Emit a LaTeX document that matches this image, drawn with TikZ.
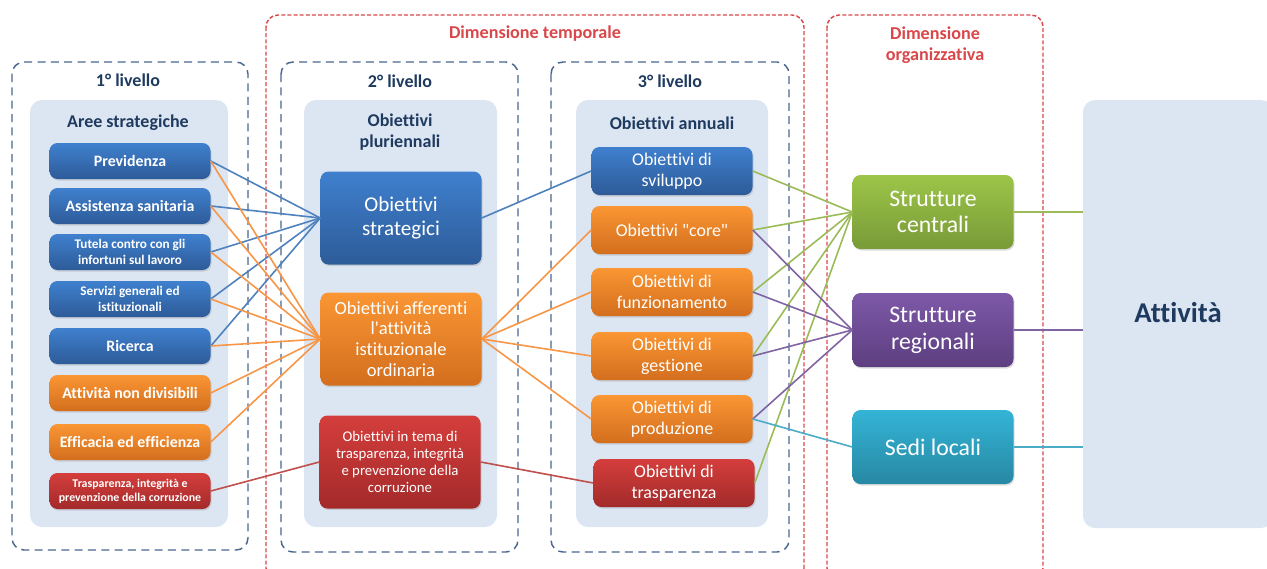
\documentclass[tikz,border=0pt]{standalone}
\usepackage{fontspec}
\setmainfont[Ligatures={NoCommon,TeXOff}]{Carlito}
\usetikzlibrary{shadows}

\definecolor{panelfill}{HTML}{DCE6F2}
\definecolor{levelcol}{HTML}{4A6790}
\definecolor{dimred}{HTML}{D9474A}
\definecolor{titlecol}{HTML}{1F3A5F}
\definecolor{blueA}{HTML}{3F80CE}
\definecolor{blueB}{HTML}{2D5B98}
\definecolor{orangeA}{HTML}{FA9633}
\definecolor{orangeB}{HTML}{D36E1E}
\definecolor{redA}{HTML}{D43E3C}
\definecolor{redB}{HTML}{A32A2A}
\definecolor{greenA}{HTML}{9DC548}
\definecolor{greenB}{HTML}{789A38}
\definecolor{purpleA}{HTML}{7D58A8}
\definecolor{purpleB}{HTML}{5D3F80}
\definecolor{tealA}{HTML}{34B4D6}
\definecolor{tealB}{HTML}{2788A3}
\definecolor{linkblue}{HTML}{4F81BD}
\definecolor{linkorange}{HTML}{F79646}
\definecolor{linkred}{HTML}{C0504D}
\definecolor{linkgreen}{HTML}{9BBB59}
\definecolor{linkpurple}{HTML}{8064A2}
\definecolor{linkteal}{HTML}{4BACC6}

\tikzset{
  box/.style={rounded corners=6pt, text=white, align=center, inner sep=0pt,
    minimum width=120.75pt,
    drop shadow={opacity=0.25, shadow xshift=0.8pt, shadow yshift=-1.2pt}},
  bluebox/.style={box, top color=blueA, bottom color=blueB},
  orangebox/.style={box, top color=orangeA, bottom color=orangeB},
  redbox/.style={box, top color=redA, bottom color=redB},
  greenbox/.style={box, top color=greenA, bottom color=greenB},
  purplebox/.style={box, top color=purpleA, bottom color=purpleB},
  tealbox/.style={box, top color=tealA, bottom color=tealB},
  areabox/.style={minimum height=27pt, font=\bfseries\fontsize{11.9}{14}\selectfont},
  smallarea/.style={minimum height=27pt, font=\bfseries\fontsize{9.9}{11.6}\selectfont},
  pluribox/.style={minimum height=69.75pt},
  annobox/.style={minimum height=36pt, font=\fontsize{13.4}{15.8}\selectfont},
  strutbox/.style={minimum height=55.5pt, font=\fontsize{17.8}{20}\selectfont},
  panel/.style={fill=panelfill, rounded corners=9pt},
  level/.style={draw=levelcol, line width=1.1pt, dash pattern=on 6pt off 4pt, rounded corners=9pt},
  dimension/.style={draw=dimred, line width=1.1pt, dash pattern=on 3pt off 1.6pt, rounded corners=9pt},
  title/.style={font=\bfseries\fontsize{13.5}{16}\selectfont, text=titlecol, align=center},
  dimtitle/.style={font=\bfseries\fontsize{13.6}{15.8}\selectfont, text=dimred, align=center},
  link/.style={line width=1.2pt},
}

\begin{document}
\begin{tikzpicture}[x=0.75pt,y=-0.75pt]
  \useasboundingbox (0,0) rectangle (1267,568);

  % dimension frames
  \draw[dimension] (266,15) rectangle (804,580);
  \draw[dimension] (827,15) rectangle (1043,580);
  \node[dimtitle] (dtemp) at (535,34) {Dimensione temporale};
  \node[dimtitle] (dorg) at (935,45) {Dimensione\\organizzativa};

  % levels
  \draw[level] (12,62) rectangle (248,550);
  \draw[level] (281,62) rectangle (518,552);
  \draw[level] (551,62) rectangle (789,552);
  \node[title] (liv1) at (128,80) {1° livello};
  \node[title] (liv2) at (400,81) {2° livello};
  \node[title] (liv3) at (670,81) {3° livello};

  % panels
  \fill[panel] (30,100) rectangle (228,527);
  \fill[panel] (304,100) rectangle (497,527);
  \fill[panel] (576,100) rectangle (768,527);
  \node[title] (aree) at (128,123) {Aree strategiche};
  \node[title] (pluri) at (400,132) {Obiettivi\\pluriennali};
  \node[title] (annu) at (672,123) {Obiettivi annuali};

  \node[panel, minimum width=142.5pt, minimum height=321pt] (att) at (1178,314) {};
  \node[font=\bfseries\fontsize{21.5}{25}\selectfont, text=titlecol] (atttext) at (1178,313) {Attività};

  % 1st level
  \node[bluebox, areabox] (prev) at (130,161) {Previdenza};
  \node[bluebox, areabox] (assist) at (130,206) {Assistenza sanitaria};
  \node[bluebox, smallarea] (tutela) at (130,252) {Tutela contro con gli\\infortuni sul lavoro};
  \node[bluebox, smallarea] (servizi) at (130,299) {Servizi generali ed\\istituzionali};
  \node[bluebox, areabox] (ricerca) at (130,346) {Ricerca};
  \node[orangebox, areabox] (nondiv) at (130,393) {Attività non divisibili};
  \node[orangebox, areabox] (effic) at (130,442) {Efficacia ed efficienza};
  \node[redbox, minimum height=27pt, font=\bfseries\fontsize{8.9}{10.5}\selectfont] (traspA) at (130,491)
    {Trasparenza, integrità e\\prevenzione della corruzione};

  % 2nd level
  \node[bluebox, pluribox, font=\fontsize{15.8}{18.5}\selectfont] (ostrat) at (401,218) {Obiettivi\\strategici};
  \node[orangebox, pluribox, font=\fontsize{13.9}{15.6}\selectfont] (oaff) at (401,339)
    {Obiettivi afferenti\\l'attività\\istituzionale\\ordinaria};
  \node[redbox, pluribox, font=\fontsize{11.1}{12.9}\selectfont] (otema) at (400,462)
    {Obiettivi in tema di\\trasparenza, integrità\\e prevenzione della\\corruzione};

  % 3rd level
  \node[bluebox, annobox] (svil) at (672,171) {Obiettivi di\\sviluppo};
  \node[orangebox, annobox] (core) at (672,230) {Obiettivi "core"};
  \node[orangebox, annobox] (funz) at (672,292) {Obiettivi di\\funzionamento};
  \node[orangebox, annobox] (gest) at (672,356) {Obiettivi di\\gestione};
  \node[orangebox, annobox] (prod) at (672,419) {Obiettivi di\\produzione};
  \node[redbox, annobox] (traspB) at (674,483) {Obiettivi di\\trasparenza};

  % structures
  \node[greenbox, strutbox] (scentr) at (933,212) {Strutture\\centrali};
  \node[purplebox, strutbox] (sreg) at (933,330) {Strutture\\regionali};
  \node[tealbox, strutbox] (sedi) at (933,447) {Sedi locali};

  % links
  \foreach \a in {prev,assist,tutela,servizi,ricerca}
    \draw[link, linkblue] (\a.east) -- (ostrat.west);
  \foreach \a in {prev,assist,tutela,servizi,ricerca,nondiv,effic}
    \draw[link, linkorange] (\a.east) -- (oaff.west);
  \draw[link, linkred] (traspA.east) -- (otema.west);
  \draw[link, linkblue] (ostrat.east) -- (svil.west);
  \foreach \b in {core,funz,gest,prod}
    \draw[link, linkorange] (oaff.east) -- (\b.west);
  \draw[link, linkred] (otema.east) -- (traspB.west);
  \foreach \b in {svil,core,funz,gest,traspB}
    \draw[link, linkgreen] (\b.east) -- (scentr.west);
  \foreach \b in {core,funz,gest,prod}
    \draw[link, linkpurple] (\b.east) -- (sreg.west);
  \draw[link, linkteal] (prod.east) -- (sedi.west);
  \draw[link, linkgreen] (scentr.east) -- (scentr.east -| att.west);
  \draw[link, linkpurple] (sreg.east) -- (sreg.east -| att.west);
  \draw[link, linkteal] (sedi.east) -- (sedi.east -| att.west);
\end{tikzpicture}
\end{document}
